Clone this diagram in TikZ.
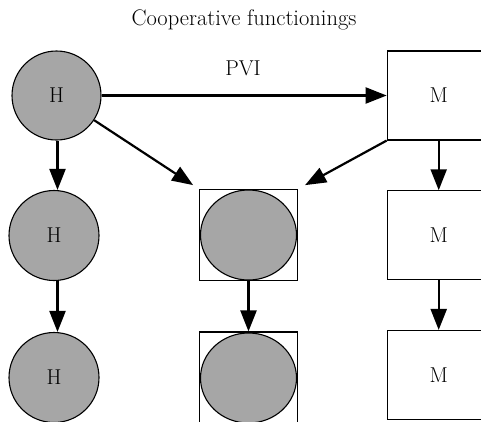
\documentclass[tikz,border=0pt]{standalone}
\usepackage{fontspec}
\usetikzlibrary{arrows.meta,shapes.geometric}
\begin{document}
\begin{tikzpicture}[x=1pt,y=-1pt,
  hnode/.style={circle,draw=black,line width=1.1pt,fill=black!35,inner sep=0pt,minimum size=89pt,font=\fontsize{21.5}{25}\selectfont},
  mbox/.style={rectangle,draw=black,line width=1.1pt,fill=white,inner sep=0pt,minimum width=103pt,minimum height=89pt,font=\fontsize{21.5}{25}\selectfont},
  sqbox/.style={rectangle,draw=black,line width=1.1pt,inner sep=0pt,minimum width=98pt,minimum height=91pt},
  ell/.style={ellipse,draw=black,line width=1.1pt,fill=black!35,inner sep=0pt,minimum width=96pt,minimum height=90pt},
  arr/.style={line width=2.2pt,-{Triangle[length=21pt,width=16pt]}}]
\useasboundingbox (0,0) rectangle (481,421);
\clip (0,0) rectangle (481,421);
\node[font=\fontsize{22.5}{26}\selectfont] (title) at (244,20) {Cooperative functionings};
\node[font=\fontsize{21.5}{25}\selectfont] (pvi) at (243,68) {PVI};
\node[hnode] (h1) at (56.5,95.5) {H};
\node[hnode,minimum size=90pt] (h2) at (54,235.5) {H};
\node[hnode,minimum size=90pt] (h3) at (54,377.5) {H};
\node[sqbox] (s1) at (248.5,235) {};
\node[ell] (e1) at (248.5,235) {};
\node[sqbox] (s2) at (248.5,377.5) {};
\node[ell] (e2) at (248.5,378) {};
\node[mbox] (m1) at (438.7,95.5) {M};
\node[mbox] (m2) at (438.7,235.3) {M};
\node[mbox] (m3) at (438.7,375) {M};
\draw[arr] (h1) -- (m1);
\draw[arr,shorten >=7pt] (h1) -- (s1.north west);
\draw[arr,shorten >=8pt] (m1.south west) -- (s1.north east);
\draw[arr] ([xshift=1pt]h1.south) -- ([xshift=1pt]h1.south |- h2.north);
\draw[arr] ([xshift=3.5pt]h2.south) -- ([xshift=3.5pt]h2.south |- h3.north);
\draw[arr] (e1.south) -- (s2.north);
\draw[arr] (m1.south) -- (m2.north);
\draw[arr] (m2.south) -- (m3.north);
\end{tikzpicture}
\end{document}
